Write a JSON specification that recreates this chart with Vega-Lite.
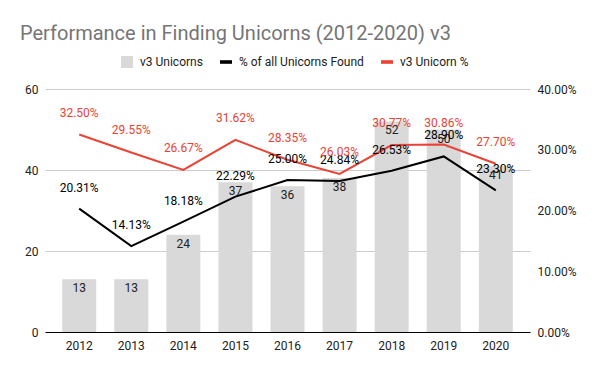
{
  "$schema": "https://vega.github.io/schema/vega-lite/v6.json",
  "width": 485,
  "height": 243,
  "autosize": {"type": "none"},
  "padding": {"left": 45, "top": 89, "right": 70, "bottom": 39},
  "background": "white",
  "config": {
    "font": "Roboto",
    "view": {"stroke": null},
    "axis": {"labelFont": "Roboto", "labelFontSize": 12, "labelColor": "#222222", "ticks": false, "title": null}
  },
  "title": {
    "text": "Performance in Finding Unicorns (2012-2020) v3",
    "anchor": "start",
    "frame": "group",
    "dx": -25,
    "fontSize": 20,
    "fontWeight": "normal",
    "color": "#757575",
    "font": "Roboto",
    "offset": 12
  },
  "data": {
    "values": [
      {"year": "2012", "unicorns": 13, "pctAll": 0.2031, "pctV3": 0.3250},
      {"year": "2013", "unicorns": 13, "pctAll": 0.1413, "pctV3": 0.2955},
      {"year": "2014", "unicorns": 24, "pctAll": 0.1818, "pctV3": 0.2667},
      {"year": "2015", "unicorns": 37, "pctAll": 0.2229, "pctV3": 0.3162},
      {"year": "2016", "unicorns": 36, "pctAll": 0.2500, "pctV3": 0.2835},
      {"year": "2017", "unicorns": 38, "pctAll": 0.2484, "pctV3": 0.2603},
      {"year": "2018", "unicorns": 52, "pctAll": 0.2653, "pctV3": 0.3077},
      {"year": "2019", "unicorns": 50, "pctAll": 0.2890, "pctV3": 0.3086},
      {"year": "2020", "unicorns": 41, "pctAll": 0.2330, "pctV3": 0.2770}
    ]
  },
  "encoding": {
    "x": {
      "field": "year",
      "type": "ordinal",
      "scale": {"paddingInner": 0.347, "paddingOuter": 0.33},
      "axis": {"labelAngle": 0, "domainColor": "#000000", "domainWidth": 1, "labelPadding": 8, "grid": false}
    }
  },
  "layer": [
    {
      "encoding": {
        "y": {
          "field": "unicorns",
          "type": "quantitative",
          "scale": {"domain": [0, 60]},
          "axis": {"orient": "left", "values": [0, 20, 40, 60], "grid": true, "gridColor": "#cccccc", "domain": false, "labelPadding": 7}
        }
      },
      "layer": [
        {
          "mark": {"type": "bar"},
          "encoding": {
            "color": {
              "datum": "v3 Unicorns",
              "scale": {"domain": ["v3 Unicorns", "% of all Unicorns Found", "v3 Unicorn %"], "range": ["#d9d9d9", "#000000", "#ea4335"]},
              "legend": {
                "orient": "none",
                "legendX": 76,
                "legendY": -33,
                "direction": "horizontal",
                "columns": 3,
                "title": null,
                "labelFont": "Roboto",
                "labelFontSize": 12,
                "labelColor": "#222222",
                "symbolSize": 144,
                "labelOffset": 7,
                "columnPadding": 17,
                "encode": {
                  "symbols": {
                    "update": {
                      "shape": {"signal": "datum.value === 'v3 Unicorns' ? 'square' : 'M-1,-0.3H1V0.3H-1Z'"},
                      "fill": {"signal": "scale('color', datum.value)"},
                      "stroke": {"value": "transparent"},
                      "strokeWidth": {"value": 0},
                      "opacity": {"value": 1}
                    }
                  }
                }
              }
            }
          }
        },
        {
          "mark": {"type": "text", "baseline": "middle", "dy": 9, "fontSize": 12, "color": "#222222", "font": "Roboto"},
          "encoding": {"text": {"field": "unicorns", "type": "quantitative"}}
        }
      ]
    },
    {
      "encoding": {
        "y": {
          "type": "quantitative",
          "scale": {"domain": [0, 0.4]},
          "axis": {"orient": "right", "values": [0, 0.1, 0.2, 0.3, 0.4], "format": ".2%", "grid": false, "domain": false, "labelPadding": 7}
        }
      },
      "layer": [
        {
          "mark": {"type": "line", "strokeWidth": 2},
          "encoding": {"y": {"field": "pctAll", "type": "quantitative"}, "color": {"datum": "% of all Unicorns Found"}}
        },
        {
          "mark": {"type": "line", "strokeWidth": 2},
          "encoding": {"y": {"field": "pctV3", "type": "quantitative"}, "color": {"datum": "v3 Unicorn %"}}
        },
        {
          "mark": {"type": "text", "baseline": "middle", "dy": -21, "fontSize": 12, "color": "#000000", "font": "Roboto"},
          "encoding": {"y": {"field": "pctAll", "type": "quantitative"}, "text": {"field": "pctAll", "type": "quantitative", "format": ".2%"}}
        },
        {
          "mark": {"type": "text", "baseline": "middle", "dy": -22, "fontSize": 12, "color": "#ea4335", "font": "Roboto"},
          "encoding": {"y": {"field": "pctV3", "type": "quantitative"}, "text": {"field": "pctV3", "type": "quantitative", "format": ".2%"}}
        }
      ]
    }
  ],
  "resolve": {"scale": {"y": "independent"}}
}
